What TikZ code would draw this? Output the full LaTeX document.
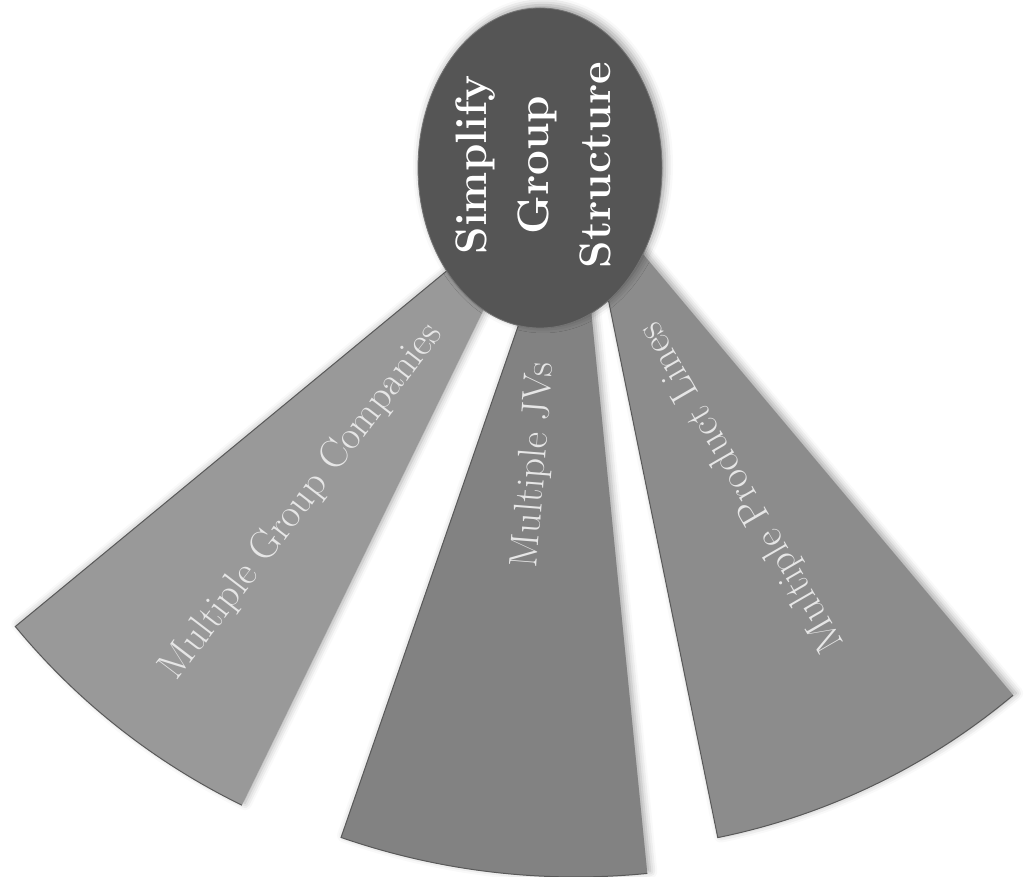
\documentclass[tikz,border=0pt]{standalone}
\usetikzlibrary{shapes.geometric,shadows.blur,calc}
\definecolor{sectL}{HTML}{999999}
\definecolor{sectM}{HTML}{828282}
\definecolor{sectR}{HTML}{8C8C8C}
\definecolor{hubgray}{HTML}{555555}
\definecolor{sectxt}{HTML}{E6E6E6}
\begin{document}
\begin{tikzpicture}[x=1pt,y=1pt,
  sector/.style={fill=#1, draw=none,
    blur shadow={shadow xshift=3pt, shadow yshift=2pt, shadow blur radius=7pt, shadow opacity=35}},
  edgeline/.style={draw=black!65, line width=1pt},
  sectext/.style={text=sectxt, font=\fontsize{40}{46}\selectfont, inner sep=0pt},
  hubnode/.style={ellipse, fill=hubgray, draw=black!55, line width=0.8pt,
    minimum width=244pt, minimum height=320pt, inner sep=0pt,
    blur shadow={shadow xshift=3pt, shadow yshift=3pt, shadow blur radius=8pt, shadow opacity=40}},
  hubtext/.style={text=white, font=\bfseries\fontsize{44}{62}\selectfont, align=center, inner sep=0pt}]
\useasboundingbox (0,0) rectangle (1027,876);

% apexes of the three fan sectors
\coordinate (aL) at (540,682);
\coordinate (aM) at (576,717);
\coordinate (aR) at (585,691);

% sectors
\path[sector=sectL] (aL) -- ($(aL)+(219.5:680)$) arc[start angle=219.5, end angle=244, radius=680] -- cycle;
\draw[edgeline] (aL) -- ($(aL)+(219.5:680)$) arc[start angle=219.5, end angle=244, radius=680];

\path[sector=sectM] (aM) -- ($(aM)+(250.9:718)$) arc[start angle=250.9, end angle=275.7, radius=718] -- cycle;
\draw[edgeline] (aM) -- ($(aM)+(250.9:718)$) arc[start angle=250.9, end angle=275.7, radius=718];

\path[sector=sectR] (aR) -- ($(aR)+(281.5:666)$) arc[start angle=281.5, end angle=310, radius=666] -- cycle;
\draw[edgeline] (aR) -- ($(aR)+(281.5:666)$) arc[start angle=281.5, end angle=310, radius=666];

% sector labels
\node[sectext, rotate=52.5] (tL) at (302,374) {Multiple Group Companies};
\node[sectext, rotate=85.5] (tM) at (535,411) {Multiple JVs};
\node[sectext, rotate=120] (tR) at (742,389) {Multiple Product Lines};

% hub
\node[hubnode] (hub) at (540,708) {};
\node[hubtext, rotate=90] (hubtxt) at (533,711) {Simplify\\Group\\Structure};
\end{tikzpicture}
\end{document}
